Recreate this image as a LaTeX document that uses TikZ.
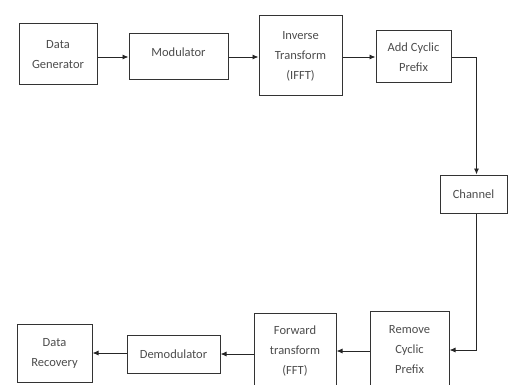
\documentclass[tikz,border=0pt]{standalone}
\usepackage{fontspec}
\setsansfont{Carlito}
\usetikzlibrary{arrows.meta}

\begin{document}
\begin{tikzpicture}[x=1pt, y=-1pt,
    blk/.style={draw=black!80, line width=1pt, inner sep=0pt, align=center, text=black!70, font=\sffamily\fontsize{12.5}{20}\selectfont},
    arr/.style={draw=black!85, line width=0.9pt, -{Latex[length=6pt,width=5pt]}}]
    \useasboundingbox (0,0) rectangle (508,385);
    \clip (0,0) rectangle (508,385);
    % transmitter
    \node[blk, minimum width=78pt, minimum height=61pt] (dgen) at (58,54.5) {Data\\Generator};
    \node[blk, minimum width=99pt, minimum height=46pt, text depth=10pt] (mod) at (178.5,57) {Modulator};
    \node[blk, minimum width=83pt, minimum height=80pt] (ifft) at (300.5,56) {Inverse\\Transform\\(IFFT)};
    \node[blk, minimum width=75pt, minimum height=52pt] (addcp) at (413.5,57) {Add Cyclic\\Prefix};
    \node[blk, minimum width=67pt, minimum height=38pt] (chan) at (473.5,194) {Channel};
    % receiver
    \node[blk, minimum width=79pt, minimum height=78pt] (remcp) at (409.5,350) {Remove\\Cyclic\\Prefix};
    \node[blk, minimum width=82pt, minimum height=76pt] (fft) at (295,351) {Forward\\transform\\(FFT)};
    \node[blk, minimum width=93pt, minimum height=38pt] (demod) at (173.5,354) {Demodulator};
    \node[blk, minimum width=75pt, minimum height=58pt] (drec) at (54.5,353) {Data\\Recovery};
    \draw[arr] (dgen.east |- mod.west) -- (mod.west);
    \draw[arr] (mod.east) -- (mod.east -| ifft.west);
    \draw[arr] (ifft.east |- addcp.west) -- (addcp.west);
    \draw[arr] (addcp.east) -| ([xshift=3pt]chan.north);
    \draw[arr] ([xshift=3pt]chan.south) |- (remcp.east);
    \draw[arr] (remcp.west |- fft.east) -- (fft.east);
    \draw[arr] (fft.west |- demod.east) -- (demod.east);
    \draw[arr] (demod.west |- drec.east) -- (drec.east);
\end{tikzpicture}
\end{document}
